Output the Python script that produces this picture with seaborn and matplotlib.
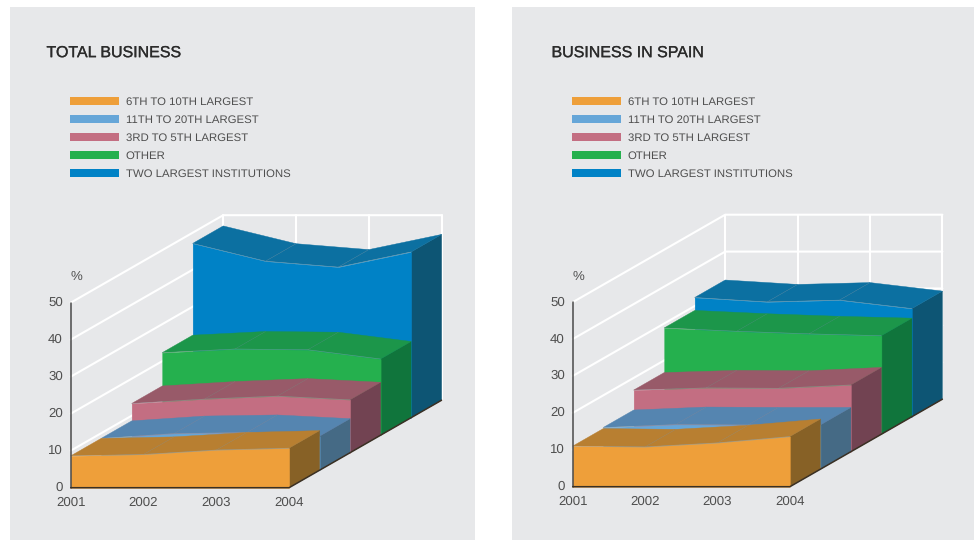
import matplotlib
matplotlib.use("Agg")
import matplotlib.pyplot as plt
import matplotlib.patheffects as pe
import pandas as pd
import seaborn as sns
from matplotlib.patches import Patch

# Chart data
YEARS = [2001, 2002, 2003, 2004]
SERIES = ["6TH TO 10TH LARGEST", "11TH TO 20TH LARGEST", "3RD TO 5TH LARGEST",
          "OTHER", "TWO LARGEST INSTITUTIONS"]
Y_TICKS = [0, 10, 20, 30, 40, 50]

TOTAL_6_10 = [8.6, 9.0, 10.2, 10.7]
TOTAL_11_20 = [8.6, 9.9, 10.2, 9.2]
TOTAL_3_5 = [13.3, 14.5, 15.3, 14.3]
TOTAL_OTHER = [22.3, 23.3, 23.1, 20.6]
TOTAL_TWO = [47.1, 42.3, 40.7, 44.8]

SPAIN_6_10 = [11.0, 10.8, 11.9, 13.6]
SPAIN_11_20 = [11.3, 12.1, 12.0, 12.0]
SPAIN_3_5 = [16.7, 17.3, 17.2, 18.1]
SPAIN_OTHER = [28.8, 27.9, 27.2, 26.7]
SPAIN_TWO = [32.3, 31.1, 31.6, 29.3]

# Colours
FRONT = ["#EE9F3A", "#66A6D8", "#C36E82", "#25B04E", "#0082C6"]
TOP = ["#B87F31", "#5585B0", "#985A69", "#1C964A", "#0C70A1"]
SIDE = ["#876126", "#456A85", "#724352", "#10753C", "#0D5574"]
PANEL_BG = "#E7E8EA"
TEXT_COL = "#4F4F4F"

FONT = ["Liberation Sans", "DejaVu Sans"]
W, H = 974, 540


def make_frame(values):
    """Long table with one row per series and year."""
    rows = []
    for depth, (name, vals) in enumerate(zip(SERIES, values)):
        for i, v in enumerate(vals):
            rows.append({"series": name, "depth": depth, "pos": i, "value": v})
    return pd.DataFrame(rows)


def draw_panel(fig, rect, origin, step, unit, title, title_x, values):
    left, top, right, bottom = rect
    ax = fig.add_axes([left / W, 1 - bottom / H, (right - left) / W, (bottom - top) / H])
    ax.set_facecolor(PANEL_BG)
    # data units: one year across, one percent up
    ax.set_xlim((left - origin[0]) / step, (right - origin[0]) / step)
    ax.set_ylim((origin[1] - bottom) / unit, (origin[1] - top) / unit)
    ax.set_xticks([])
    ax.set_yticks([])
    for s in ax.spines.values():
        s.set_visible(False)

    # oblique offset for one series of depth
    dx = 30.5 / step
    dy = 17.5 / unit
    n_depth = len(SERIES)
    last = len(YEARS) - 1

    def px(x, d):
        return x + d * dx

    def py(v, d):
        return v + d * dy

    # white walls
    for v in Y_TICKS[1:]:
        ax.plot([px(0, 0), px(0, n_depth), px(last, n_depth)],
                [py(v, 0), py(v, n_depth), py(v, n_depth)],
                color="white", lw=1.5, zorder=1)
    for i in range(len(YEARS)):
        ax.plot([px(i, n_depth)] * 2, [py(0, n_depth), py(50, n_depth)],
                color="white", lw=1.5, zorder=1)

    df = make_frame(values)
    z = 2
    for depth in range(n_depth - 1, -1, -1):
        sub = df[df["depth"] == depth]
        xs = sub["pos"].to_numpy(dtype=float)
        vs = sub["value"].to_numpy()

        # side of the block at the last year
        ax.fill([px(last, depth), px(last, depth + 1), px(last, depth + 1), px(last, depth)],
                [py(0, depth), py(0, depth + 1), py(vs[-1], depth + 1), py(vs[-1], depth)],
                color=SIDE[depth], lw=0.3, zorder=z)
        # top surface, one strip per year gap
        for i in range(last):
            ax.fill([px(xs[i], depth), px(xs[i + 1], depth),
                     px(xs[i + 1], depth + 1), px(xs[i], depth + 1)],
                    [py(vs[i], depth), py(vs[i + 1], depth),
                     py(vs[i + 1], depth + 1), py(vs[i], depth + 1)],
                    color=TOP[depth], lw=0.3, zorder=z)
        # seams between strips
        for i in range(1, last):
            ax.plot([px(xs[i], depth), px(xs[i], depth + 1)],
                    [py(vs[i], depth), py(vs[i], depth + 1)],
                    color="#8A9298", lw=0.3, alpha=0.45, zorder=z + 0.1)
        # front face
        ax.fill_between(px(xs, depth), py(0, depth), py(vs, depth),
                        color=FRONT[depth], lw=0.3, zorder=z + 0.2)
        sns.lineplot(x=px(xs, depth), y=py(vs, depth), color="#9AA5A8", lw=0.35,
                     alpha=0.6, zorder=z + 0.3, ax=ax, errorbar=None, sort=False)
        z += 1

    # axis and floor edges
    ax.plot([0, 0], [0, 50], color="#4A4A4A", lw=1.1, zorder=20)
    ax.plot([0, last, px(last, n_depth)], [0, 0, py(0, n_depth)],
            color="#3A3024", lw=1.1, zorder=20)

    for v in Y_TICKS:
        ax.annotate(str(v), (0, v), xytext=(-5.6, 0), textcoords="offset points",
                    ha="right", va="center", fontsize=9.5, color=TEXT_COL, family=FONT)
    for i, year in enumerate(YEARS):
        ax.annotate(str(year), (i, 0), xytext=(0, -11), textcoords="offset points",
                    ha="center", va="center", fontsize=9.5, color=TEXT_COL, family=FONT)
    ax.annotate("%", (0, 50), xytext=(4, 18.5), textcoords="offset points",
                ha="center", va="center", fontsize=9.5, color=TEXT_COL, family=FONT)

    ax.text((title_x - left) / (right - left), 1 - 46 / (bottom - top), title,
            transform=ax.transAxes, ha="left", va="center", fontsize=11.5,
            color="#2B2B2B", family=FONT,
            path_effects=[pe.withStroke(linewidth=0.2, foreground="#2B2B2B")])

    handles = [Patch(color=c, label=s, lw=0) for c, s in zip(FRONT, SERIES)]
    ax.legend(handles=handles, loc="upper left", frameon=False,
              bbox_to_anchor=((origin[0] - 1 - left) / (right - left), 1 - 89.5 / (bottom - top)),
              borderaxespad=0, borderpad=0,
              prop={"family": FONT, "size": 8.2},
              handlelength=4.3, handleheight=0.79, handletextpad=0.62,
              labelspacing=0.66, labelcolor=TEXT_COL)
    return ax


def main():
    sns.set_theme(style="white")
    plt.rcParams["font.family"] = FONT
    plt.rcParams["text.hinting"] = "none"
    fig = plt.figure(figsize=(W / 100, H / 100), dpi=100, facecolor="white")

    draw_panel(fig, (10, 7, 475, 540), (70.7, 487.7), 72.8, 3.7, "TOTAL BUSINESS", 46.5,
               [TOTAL_6_10, TOTAL_11_20, TOTAL_3_5, TOTAL_OTHER, TOTAL_TWO])
    draw_panel(fig, (512, 7, 974, 540), (572.7, 486.7), 72.4, 3.69, "BUSINESS IN SPAIN", 551.5,
               [SPAIN_6_10, SPAIN_11_20, SPAIN_3_5, SPAIN_OTHER, SPAIN_TWO])

    fig.savefig("out.png", dpi=100)


if __name__ == "__main__":
    main()
